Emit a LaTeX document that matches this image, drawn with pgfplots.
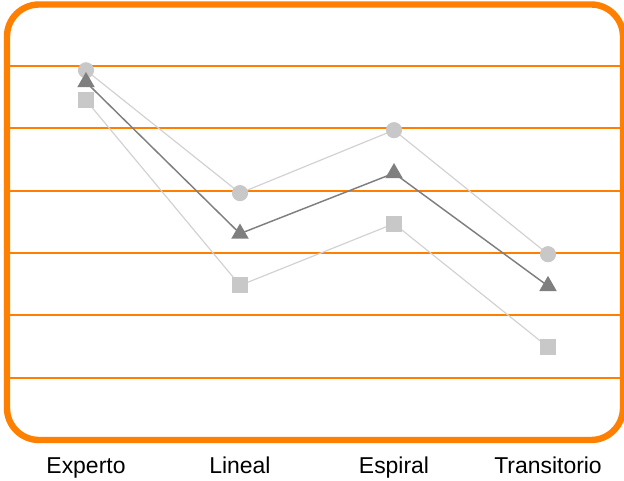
\documentclass[border=0pt]{standalone}
\usepackage{fontspec}
\setmainfont{Liberation Sans}
\usepackage{pgfplots}
\pgfplotsset{compat=1.18}
\definecolor{frameor}{HTML}{FF8000}
\definecolor{lgray}{HTML}{C8C8C8}
\definecolor{lline}{HTML}{D2D2D2}
\definecolor{dgray}{HTML}{7F7F7F}
\begin{document}
\begin{tikzpicture}[x=0.75pt,y=0.75pt]
\useasboundingbox (-7,-41) rectangle (617,440);
\begin{axis}[at={(0,0)}, anchor=south west, scale only axis,
  width=462pt, height=326.6pt,
  xmin=-0.513, xmax=3.487, ymin=0, ymax=6.985,
  axis line style={draw=none}, tick style={draw=none},
  xtick={0,1,2,3}, xticklabels={Experto,Lineal,Espiral,Transitorio},
  ytick={1,2,3,4,5,6}, yticklabels={},
  ymajorgrids, grid style={frameor, line width=1.5pt},
  xticklabel style={font=\fontsize{17.2}{19}\selectfont, anchor=base, yshift=-25pt},
  clip=false,
]
\addplot[lline, line width=0.9pt, mark=*, mark size=5.6pt, mark options={lgray, fill=lgray, draw=none}]
  coordinates {(0,5.93) (1,3.96) (2,4.97) (3,2.98)};
\addplot[lline, line width=0.9pt, mark=square*, mark size=5.6pt, mark options={lgray, fill=lgray, draw=none}]
  coordinates {(0,5.45) (1,2.48) (2,3.47) (3,1.49)};
\addplot[dgray, line width=1.1pt, mark=triangle*, mark size=6.5pt, mark options={dgray, fill=dgray, draw=none}]
  coordinates {(0,5.74) (1,3.31) (2,4.28) (3,2.47)};
\end{axis}
\draw[frameor, line width=4.8pt, rounded corners=24pt] (0,0) rectangle (616,435.5);
\end{tikzpicture}
\end{document}
